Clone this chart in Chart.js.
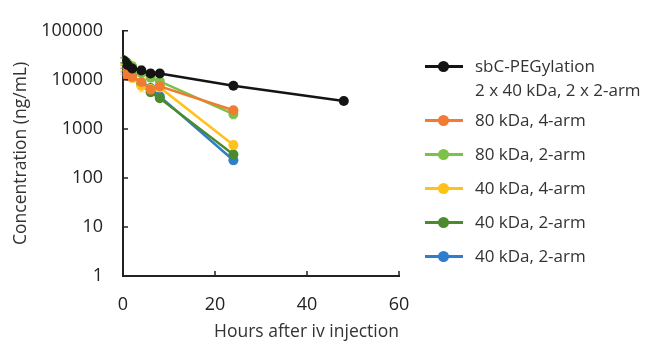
<!DOCTYPE html>
<html><head><meta charset="utf-8">
<script src="https://cdn.jsdelivr.net/npm/chart.js@4/dist/chart.umd.min.js"></script>
<style>
html,body{margin:0;padding:0;background:#fff;}
#wrap{position:relative;width:645px;height:344px;overflow:hidden;}
#c{position:absolute;left:0;top:0;}
#legend{position:absolute;left:425px;top:54px;font-family:'Open Sans',sans-serif;font-size:17px;color:#333;}
.item{display:flex;align-items:flex-start;line-height:24px;margin-bottom:10px;white-space:nowrap;}
.item:first-child{margin-bottom:6px;}
.sym{position:relative;flex:0 0 38px;height:24px;margin-right:12px;}
.sym .ln{position:absolute;left:0;right:0;top:11px;height:3px;}
.sym .dot{position:absolute;left:13px;top:7px;width:11px;height:11px;border-radius:50%;}
</style>
</head><body>
<div id="wrap"><canvas id="c" width="645" height="344"></canvas><div id="legend"></div></div>
<script>
// ---- data ----
const times = [0.083, 0.5, 1, 2, 4, 6, 8, 24];
const timesBlack = [0.083, 0.5, 1, 2, 4, 6, 8, 24, 48];
const labels = [
  ["sbC-PEGylation", "2 x 40 kDa, 2 x 2-arm"],
  ["80 kDa, 4-arm"],
  ["80 kDa, 2-arm"],
  ["40 kDa, 4-arm"],
  ["40 kDa, 2-arm"],
  ["40 kDa, 2-arm"]
];
const sbcValues   = [25000, 23000, 20000, 17000, 15500, 13500, 13500, 7600, 3700];
const kda80arm4   = [15000, 13500, 12000, 11500, 9000, 6300, 7400, 2400];
const kda80arm2   = [25000, 24000, 22000, 19000, 14000, 11000, 9300, 2000];
const kda40arm4   = [18000, 15000, 12500, 11000, 7500, 6500, 7000, 470];
const kda40arm2a  = [20000, 17000, 14000, 12000, 8000, 5600, 4200, 300];
const kda40arm2b  = [17000, 15000, 13000, 12000, 8500, 6800, 4600, 230];
const sbcErr      = [3000, 2500, 2000, 2000, 3500, 2500, 2000, 800, 300];
const kda80arm4Err= [2000, 1500, 1500, 1500, 1500, 1200, 1200, 400];
const kda80arm2Err= [4000, 3000, 3000, 2500, 2500, 1500, 1200, 400];
const kda40arm4Err= [2500, 2000, 2000, 2000, 1800, 1200, 1000, 90];
const kda40arm2aErr=[2500, 2000, 2000, 1500, 1200, 900, 500, 50];
const kda40arm2bErr=[2500, 2000, 2000, 1500, 1500, 1000, 600, 40];
const yTicks = [1, 10, 100, 1000, 10000, 100000];
const xTicks = [0, 20, 40, 60];
const colors = ['#141414', '#F07B32', '#7CC24A', '#FFC21A', '#4B8B2E', '#2F7DCB'];

const series = [
  {t: timesBlack, v: sbcValues, e: sbcErr},
  {t: times, v: kda80arm4, e: kda80arm4Err},
  {t: times, v: kda80arm2, e: kda80arm2Err},
  {t: times, v: kda40arm4, e: kda40arm4Err},
  {t: times, v: kda40arm2a, e: kda40arm2aErr},
  {t: times, v: kda40arm2b, e: kda40arm2bErr}
];

const datasets = series.map((s, i) => ({
  label: labels[i].join(' '),
  data: s.t.map((t, j) => ({x: t, y: s.v[j]})),
  errs: s.e,
  borderColor: colors[i],
  backgroundColor: colors[i],
  borderWidth: 2.5,
  pointRadius: 5,
  pointHoverRadius: 5,
  pointBorderWidth: 0,
  tension: 0
}));

const errorBars = {
  id: 'errorBars',
  beforeDatasetsDraw(chart) {
    const ctx = chart.ctx, ys = chart.scales.y;
    chart.data.datasets.forEach((ds, i) => {
      const meta = chart.getDatasetMeta(i);
      ctx.save();
      ctx.strokeStyle = ds.borderColor;
      ctx.globalAlpha = 0.6;
      ctx.lineWidth = 1;
      meta.data.forEach((pt, j) => {
        const v = ds.data[j].y, e = ds.errs[j];
        const y1 = ys.getPixelForValue(v + e), y2 = ys.getPixelForValue(Math.max(v - e, 1));
        ctx.beginPath();
        ctx.moveTo(pt.x, y1); ctx.lineTo(pt.x, y2);
        ctx.moveTo(pt.x - 3, y1); ctx.lineTo(pt.x + 3, y1);
        ctx.moveTo(pt.x - 3, y2); ctx.lineTo(pt.x + 3, y2);
        ctx.stroke();
      });
      ctx.restore();
    });
  }
};

const innerTicks = {
  id: 'innerTicks',
  afterDraw(chart) {
    const ctx = chart.ctx, xs = chart.scales.x, ys = chart.scales.y, a = chart.chartArea;
    ctx.save();
    ctx.strokeStyle = '#222';
    ctx.lineWidth = 1.5;
    ctx.beginPath();
    yTicks.forEach(v => { const y = ys.getPixelForValue(v); ctx.moveTo(a.left, y); ctx.lineTo(a.left + 5, y); });
    xTicks.forEach(v => { const x = xs.getPixelForValue(v); ctx.moveTo(x, a.bottom); ctx.lineTo(x, a.bottom - 5); });
    ctx.stroke();
    ctx.restore();
  }
};

const tickFont = {family: "'Open Sans', sans-serif", size: 18};
const titleFont = {family: "'Open Sans', sans-serif", size: 17.5};
new Chart(document.getElementById('c'), {
  type: 'line',
  data: {datasets},
  options: {
    responsive: false,
    animation: false,
    events: [],
    layout: {padding: {top: 24, right: 246, left: 0, bottom: 0}},
    plugins: {legend: {display: false}, tooltip: {enabled: false}},
    scales: {
      x: {
        type: 'linear', min: 0, max: 60,
        afterBuildTicks: s => { s.ticks = xTicks.map(v => ({value: v})); },
        afterFit: s => { s.height = 68; },
        grid: {display: false, drawTicks: false},
        border: {display: true, color: '#222', width: 2},
        ticks: {font: tickFont, color: '#222', padding: 18, maxRotation: 0},
        title: {display: true, text: 'Hours after iv injection', align: 'end',
                font: titleFont, color: '#333', padding: {top: 0, bottom: 1}}
      },
      y: {
        type: 'logarithmic', min: 1, max: 100000,
        afterBuildTicks: s => { s.ticks = yTicks.map(v => ({value: v})); },
        afterFit: s => { s.width = 123; },
        grid: {display: false, drawTicks: false},
        border: {display: true, color: '#222', width: 2},
        ticks: {font: tickFont, color: '#222', padding: 20, callback: v => String(v)},
        title: {display: true, text: 'Concentration (ng/mL)',
                font: titleFont, color: '#333', padding: {top: 11, bottom: 4}}
      }
    }
  },
  plugins: [errorBars, innerTicks]
});

// HTML legend
const leg = document.getElementById('legend');
labels.forEach((lines, i) => {
  const it = document.createElement('div'); it.className = 'item';
  const sym = document.createElement('div'); sym.className = 'sym';
  const ln = document.createElement('div'); ln.className = 'ln'; ln.style.background = colors[i];
  const dot = document.createElement('div'); dot.className = 'dot'; dot.style.background = colors[i];
  sym.appendChild(ln); sym.appendChild(dot);
  const tx = document.createElement('div');
  lines.forEach((l, k) => { if (k) tx.appendChild(document.createElement('br')); tx.appendChild(document.createTextNode(l)); });
  it.appendChild(sym); it.appendChild(tx);
  leg.appendChild(it);
});
</script>
</body></html>
